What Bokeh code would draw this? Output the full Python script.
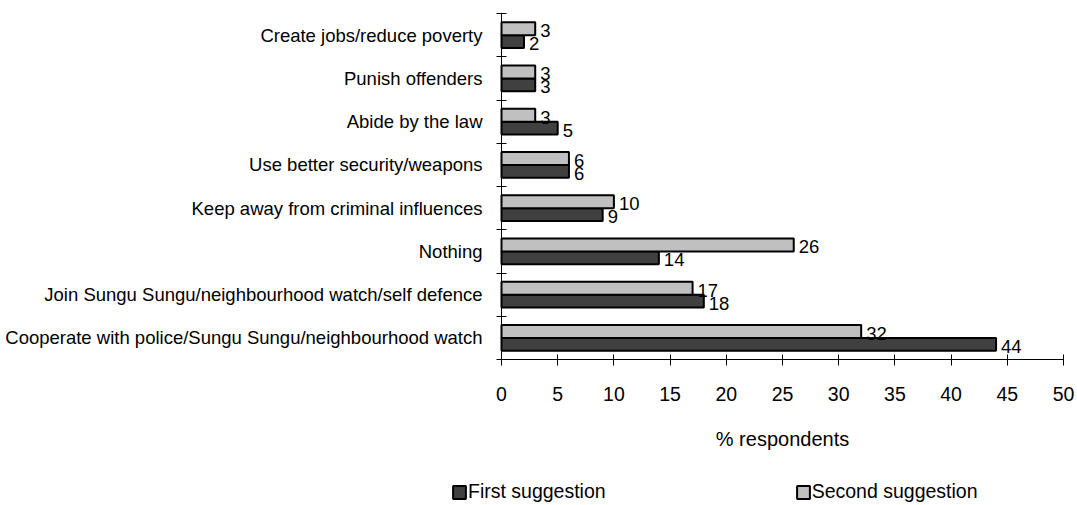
from bokeh.plotting import figure
from bokeh.models import ColumnDataSource, FixedTicker, Range1d, Legend, LegendItem
from bokeh.transform import dodge
from bokeh.core.properties import value
from bokeh.embed import file_html
from bokeh.resources import INLINE

categories = [
    "Create jobs/reduce poverty",
    "Punish offenders",
    "Abide by the law",
    "Use better security/weapons",
    "Keep away from criminal influences",
    "Nothing",
    "Join Sungu Sungu/neighbourhood watch/self defence",
    "Cooperate with police/Sungu Sungu/neighbourhood watch",
]
first_suggestion = [2, 3, 5, 6, 9, 14, 18, 44]
second_suggestion = [3, 3, 3, 6, 10, 26, 17, 32]
x_ticks = [0, 5, 10, 15, 20, 25, 30, 35, 40, 45, 50]
x_label = "% respondents"
series_names = ["First suggestion", "Second suggestion"]

FONT = "Liberation Sans"
FS = "18.5px"
FS_BIG = "19.5px"
DARK = "#404040"
LIGHT = "#c0c0c0"

W, H = 1077, 505
# pixel layout of the plotting area inside the page
AX_L, AX_R, AX_T, AX_B = 501, 1063, 13, 359

n = len(categories)
x_max = x_ticks[-1]
ypos = [n - 0.5 - i for i in range(n)]
source = ColumnDataSource(dict(
    y=ypos,
    cat=categories,
    first=first_suggestion,
    second=second_suggestion,
    first_lbl=[str(v) for v in first_suggestion],
    second_lbl=[str(v) for v in second_suggestion],
))

ppx = (AX_R - AX_L) / x_max   # pixels per % unit
ppy = (AX_B - AX_T) / n       # pixels per category
x_range = Range1d(-AX_L / ppx, (W - AX_L) / ppx)
y_range = Range1d(-(H - AX_B) / ppy, n + AX_T / ppy)

p = figure(
    width=W, height=H,
    x_range=x_range, y_range=y_range,
    output_backend="svg", toolbar_location=None,
    min_border=0,
)
p.outline_line_color = None
p.xgrid.grid_line_color = None
p.ygrid.grid_line_color = None

bh = 0.3
r1 = p.hbar(y=dodge("y", -bh / 2, range=p.y_range), left=0, right="first", height=bh,
            fill_color=DARK, line_color="black", line_width=2, source=source)
r2 = p.hbar(y=dodge("y", bh / 2, range=p.y_range), left=0, right="second", height=bh,
            fill_color=LIGHT, line_color="black", line_width=2, source=source)

p.text(x="first", y=dodge("y", -bh / 2, range=p.y_range), text="first_lbl", source=source,
       x_offset=5, y_offset=2, text_align="left", text_baseline="middle",
       text_font=value(FONT), text_font_size=value(FS), text_color="black")
p.text(x="second", y=dodge("y", bh / 2, range=p.y_range), text="second_lbl", source=source,
       x_offset=5, y_offset=2, text_align="left", text_baseline="middle",
       text_font=value(FONT), text_font_size=value(FS), text_color="black")

# y axis (category axis), pinned at x = 0
ya = p.yaxis[0]
ya.fixed_location = 0
ya.bounds = (0, n)
ya.ticker = FixedTicker(ticks=ypos, minor_ticks=list(range(n + 1)))
ya.major_label_overrides = {y: c for y, c in zip(ypos, categories)}
ya.major_tick_in = 0
ya.major_tick_out = 0
ya.minor_tick_in = 5
ya.minor_tick_out = 5
ya.minor_tick_line_color = "black"
ya.axis_line_color = "black"
ya.major_label_standoff = 14
ya.major_label_text_font = FONT
ya.major_label_text_font_size = FS
ya.major_label_text_color = "black"

# x axis, pinned at y = 0
xa = p.xaxis[0]
xa.fixed_location = 0
xa.bounds = (0, x_max)
xa.ticker = FixedTicker(ticks=x_ticks, minor_ticks=[])
xa.major_tick_in = 5
xa.major_tick_out = 6
xa.major_tick_line_color = "black"
xa.axis_line_color = "black"
xa.major_label_standoff = 21
xa.major_label_text_font = FONT
xa.major_label_text_font_size = FS_BIG
xa.major_label_text_color = "black"
xa.axis_label = x_label
xa.axis_label_standoff = 24
xa.axis_label_text_font = FONT
xa.axis_label_text_font_size = "20px"
xa.axis_label_text_font_style = "normal"
xa.axis_label_text_color = "black"

legend = Legend(
    items=[LegendItem(label=series_names[0], renderers=[r1]),
           LegendItem(label=series_names[1], renderers=[r2])],
    orientation="horizontal", location=(451, 2), spacing=189,
    glyph_width=16, glyph_height=16, label_standoff=1,
    padding=0, margin=0, border_line_color=None, background_fill_alpha=0,
    label_text_font=FONT, label_text_font_size=FS_BIG, label_text_color="black",
)
p.add_layout(legend)

open("out.html", "w").write(file_html(p, INLINE))
